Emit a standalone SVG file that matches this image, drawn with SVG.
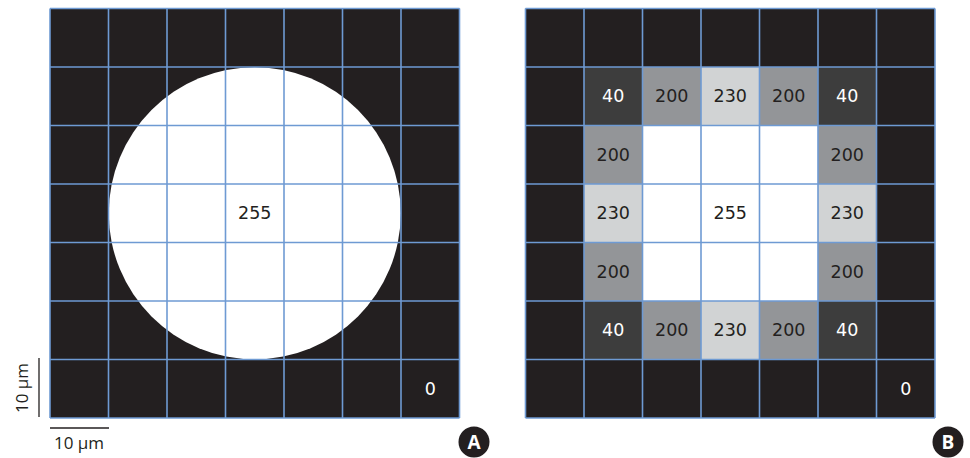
<svg xmlns="http://www.w3.org/2000/svg" width="970" height="458" viewBox="0 0 970 458">
<style>
.bg{fill:#231f20}
.grid line{stroke:#6e9ad3;stroke-width:1.6}
.t{font-family:"DejaVu Sans","Open Sans",sans-serif;font-size:17.5px;text-anchor:middle;dominant-baseline:central}
.s{font-family:"Open Sans","Liberation Sans",sans-serif;font-size:17px;text-anchor:middle;dominant-baseline:central}
.w{fill:#ffffff}
.d{fill:#231f20}
.g40{fill:#3d3d3d}
.g200{fill:#939598}
.g230{fill:#d1d3d4}
.g255{fill:#ffffff}
.sb{stroke:#231f20;stroke-width:1.3}
.lab{font-family:"Open Sans","Liberation Sans",sans-serif;font-size:19px;font-weight:bold;fill:#ffffff;text-anchor:middle;dominant-baseline:central}
</style>
<defs>
<g id="gridlines" class="grid">
<line x1="0" y1="0" x2="0" y2="409.5"/>
<line x1="58.5" y1="0" x2="58.5" y2="409.5"/>
<line x1="117" y1="0" x2="117" y2="409.5"/>
<line x1="175.5" y1="0" x2="175.5" y2="409.5"/>
<line x1="234" y1="0" x2="234" y2="409.5"/>
<line x1="292.5" y1="0" x2="292.5" y2="409.5"/>
<line x1="351" y1="0" x2="351" y2="409.5"/>
<line x1="409.5" y1="0" x2="409.5" y2="409.5"/>
<line x1="0" y1="0" x2="409.5" y2="0"/>
<line x1="0" y1="58.5" x2="409.5" y2="58.5"/>
<line x1="0" y1="117" x2="409.5" y2="117"/>
<line x1="0" y1="175.5" x2="409.5" y2="175.5"/>
<line x1="0" y1="234" x2="409.5" y2="234"/>
<line x1="0" y1="292.5" x2="409.5" y2="292.5"/>
<line x1="0" y1="351" x2="409.5" y2="351"/>
<line x1="0" y1="409.5" x2="409.5" y2="409.5"/>
</g>
</defs>
<g id="panelA" transform="translate(50,8.5)">
<rect class="bg" x="0" y="0" width="409.5" height="409.5"/>
<circle cx="204.75" cy="204.75" r="146" fill="#ffffff"/>
<use href="#gridlines"/>
<text class="t d" x="204.75" y="204.75">255</text>
<text class="t w" x="380.25" y="380.25">0</text>
</g>
<g id="panelB" transform="translate(525.5,8.5)">
<rect class="bg" x="0" y="0" width="409.5" height="409.5"/>
<rect class="g40" x="58.5" y="58.5" width="58.5" height="58.5"/>
<rect class="g200" x="117" y="58.5" width="58.5" height="58.5"/>
<rect class="g230" x="175.5" y="58.5" width="58.5" height="58.5"/>
<rect class="g200" x="234" y="58.5" width="58.5" height="58.5"/>
<rect class="g40" x="292.5" y="58.5" width="58.5" height="58.5"/>
<rect class="g200" x="58.5" y="117" width="58.5" height="58.5"/>
<rect class="g255" x="117" y="117" width="175.5" height="175.5"/>
<rect class="g200" x="292.5" y="117" width="58.5" height="58.5"/>
<rect class="g230" x="58.5" y="175.5" width="58.5" height="58.5"/>
<rect class="g230" x="292.5" y="175.5" width="58.5" height="58.5"/>
<rect class="g200" x="58.5" y="234" width="58.5" height="58.5"/>
<rect class="g200" x="292.5" y="234" width="58.5" height="58.5"/>
<rect class="g40" x="58.5" y="292.5" width="58.5" height="58.5"/>
<rect class="g200" x="117" y="292.5" width="58.5" height="58.5"/>
<rect class="g230" x="175.5" y="292.5" width="58.5" height="58.5"/>
<rect class="g200" x="234" y="292.5" width="58.5" height="58.5"/>
<rect class="g40" x="292.5" y="292.5" width="58.5" height="58.5"/>
<use href="#gridlines"/>
<text class="t w" x="87.75" y="87.75">40</text>
<text class="t d" x="146.25" y="87.75">200</text>
<text class="t d" x="204.75" y="87.75">230</text>
<text class="t d" x="263.25" y="87.75">200</text>
<text class="t w" x="321.75" y="87.75">40</text>
<text class="t d" x="87.75" y="146.25">200</text>
<text class="t d" x="321.75" y="146.25">200</text>
<text class="t d" x="87.75" y="204.75">230</text>
<text class="t d" x="204.75" y="204.75">255</text>
<text class="t d" x="321.75" y="204.75">230</text>
<text class="t d" x="87.75" y="263.25">200</text>
<text class="t d" x="321.75" y="263.25">200</text>
<text class="t w" x="87.75" y="321.75">40</text>
<text class="t d" x="146.25" y="321.75">200</text>
<text class="t d" x="204.75" y="321.75">230</text>
<text class="t d" x="263.25" y="321.75">200</text>
<text class="t w" x="321.75" y="321.75">40</text>
<text class="t w" x="380.25" y="380.25">0</text>
</g>
<g id="scalebars">
<line class="sb" x1="39" y1="358" x2="39" y2="417"/>
<text class="s d" transform="translate(21,388) rotate(-90)" x="0" y="0">10 µm</text>
<line class="sb" x1="50" y1="428" x2="109" y2="428"/>
<text class="s d" x="79" y="442">10 µm</text>
</g>
<g id="labelA">
<circle cx="474" cy="442" r="15.5" fill="#231f20"/>
<text class="lab" x="474" y="442">A</text>
</g>
<g id="labelB">
<circle cx="948" cy="442" r="15.5" fill="#231f20"/>
<text class="lab" x="948" y="442">B</text>
</g>
</svg>
